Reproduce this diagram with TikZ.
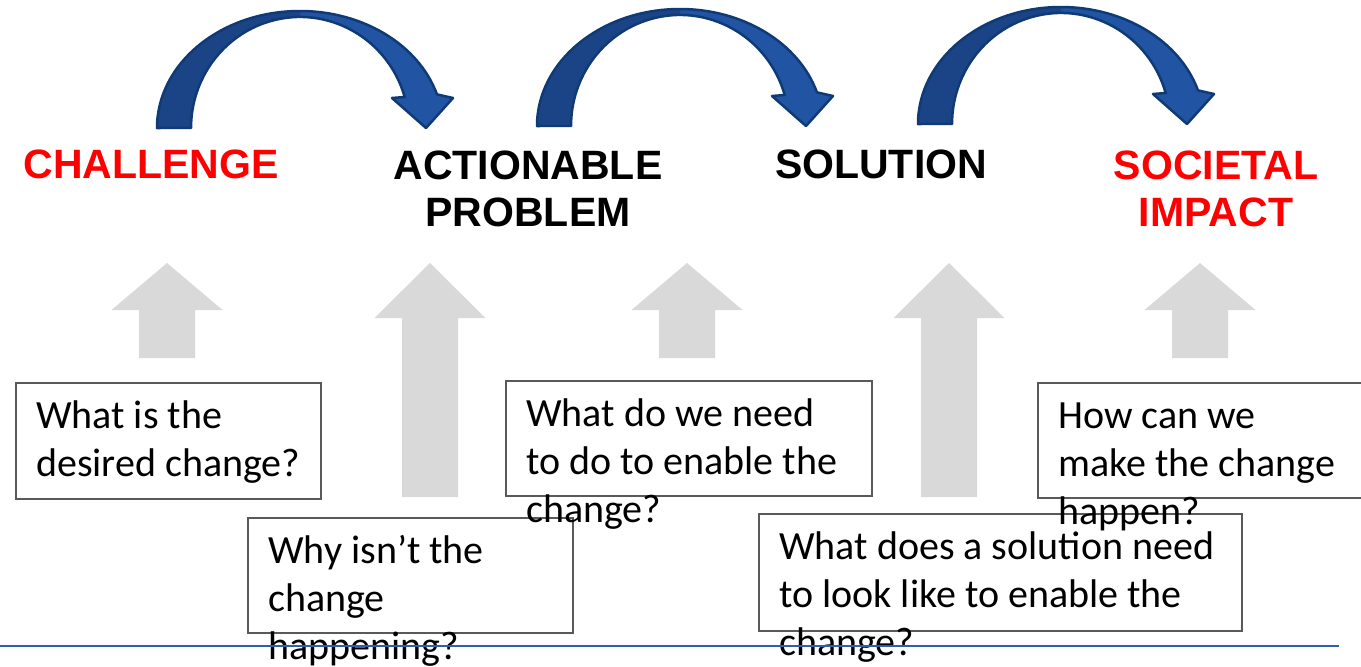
\documentclass[tikz,border=0pt]{standalone}
\usepackage{fontspec}
\setmainfont{Carlito}
\newfontfamily\headfont{Liberation Sans}
\usepackage{tikz}
\definecolor{headred}{RGB}{255,0,0}
\definecolor{upgray}{RGB}{217,217,217}
\definecolor{boxline}{RGB}{89,89,89}
\definecolor{arcfront}{RGB}{33,85,163}
\definecolor{arcback}{RGB}{27,68,134}
\definecolor{arcline}{RGB}{16,58,118}
\definecolor{baseblue}{RGB}{47,94,176}
\newcommand{\bendarrow}{(157,128) arc[start angle=180, end angle=343.3, x radius=143, y radius=117]
  -- (453,98) -- (426,128) -- (392,98) -- (404.7,97)
  arc[start angle=343.8, end angle=180, x radius=109, y radius=111] -- cycle}
\newcommand{\bendback}{(157,128) arc[start angle=180, end angle=270, x radius=143, y radius=117]
  -- (300,17) arc[start angle=270, end angle=180, x radius=109, y radius=111] -- cycle}
\tikzset{
  stage/.style={font=\headfont\bfseries\fontsize{41}{47}\selectfont, align=center, anchor=base, inner sep=0pt},
  qbox/.style={draw=boxline, line width=1.5pt, anchor=north west, inner sep=0pt},
  qtext/.style={font=\fontsize{40}{48}\selectfont, align=left, anchor=base west, inner sep=0pt},
}

\begin{document}
\begin{tikzpicture}[x=1pt, y=-1pt]
\useasboundingbox (0,0) rectangle (1361,667);

% bent arrows between the stages
\foreach \dx/\dy in {0/0, 380/-2, 761/-4}
{
\begin{scope}[shift={(\dx,\dy)}]
\fill[arcfront] \bendarrow;
\fill[arcback] \bendback;
\draw[arcline, line width=2.5pt, line join=round] \bendarrow;
\end{scope}
}

% grey up arrows
\foreach \cx/\hb/\bot in {167/310/358, 430/318/497, 687/310/358, 949/318/497, 1200/310/358}
  \fill[upgray] (\cx-55.5,\hb) -- (\cx,263) -- (\cx+55.5,\hb) -- (\cx+28,\hb)
    -- (\cx+28,\bot) -- (\cx-28,\bot) -- (\cx-28,\hb) -- cycle;

% base anchor = last line
\node[stage, text=headred] (chal) at (151,178) {CHALLENGE};
\node[stage] (prob) at (528,226) {ACTIONABLE\\PROBLEM};
\node[stage] (sol) at (881,178) {SOLUTION};
\node[stage, text=headred] (impact) at (1216,226) {SOCIETAL\\IMPACT};

\node[qbox, minimum width=305pt, minimum height=116pt] (q1) at (15,382) {};
\node[qbox, minimum width=325pt, minimum height=115pt] (q2) at (247,517) {};
\node[qbox, minimum width=366pt, minimum height=115pt] (q3) at (505,380) {};
\node[qbox, minimum width=483pt, minimum height=117pt] (q4) at (758,513) {};
\node[qbox, minimum width=343pt, minimum height=115pt] (q5) at (1037,382) {};

\node[qtext] (t1) at ([shift={(21,94)}]q1.north west) {What is the\\desired change?};
\node[qtext] (t2) at ([shift={(21,142)}]q2.north west) {Why isn’t the\\change\\happening?};
\node[qtext] (t3) at ([shift={(21,142)}]q3.north west) {What do we need\\to do to enable the\\change?};
\node[qtext] (t4) at ([shift={(21,142)}]q4.north west) {What does a solution need\\to look like to enable the\\change?};
\node[qtext] (t5) at ([shift={(21,142)}]q5.north west) {How can we\\make the change\\happen?};

\draw[baseblue, line width=2.5pt] (0,646) -- (1339,646);
\end{tikzpicture}
\end{document}
